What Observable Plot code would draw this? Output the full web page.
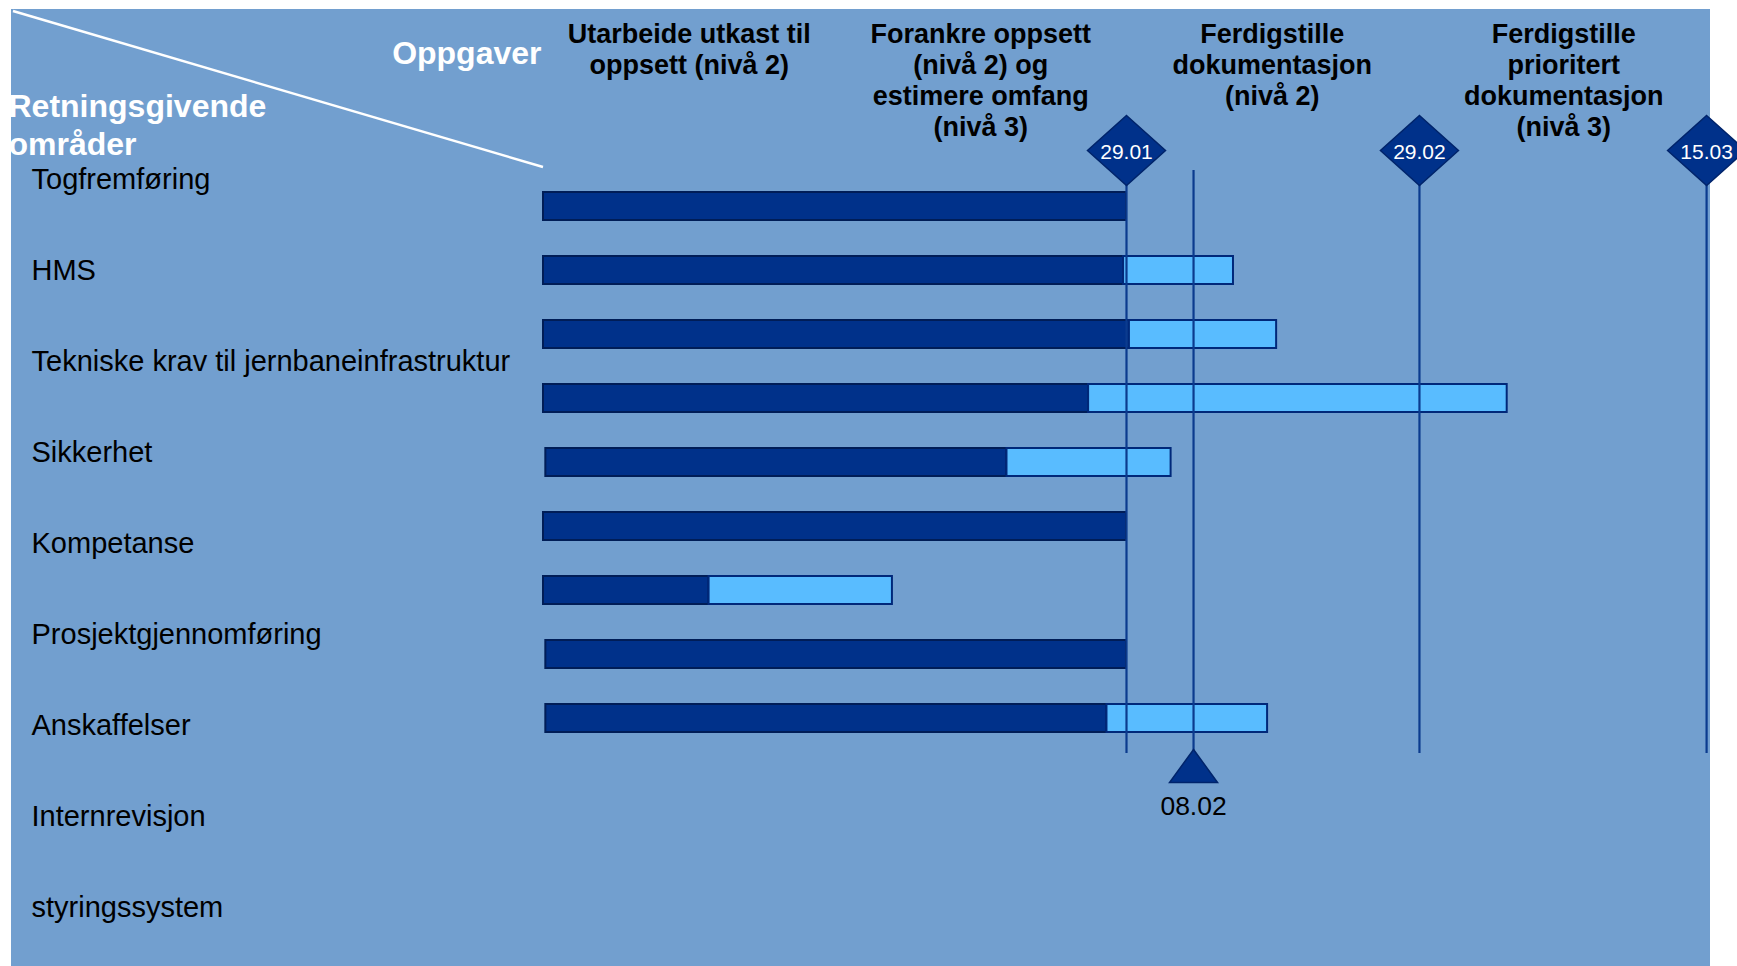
<!DOCTYPE html>
<html><head><meta charset="utf-8">
<script src="https://cdn.jsdelivr.net/npm/d3@7"></script>
<script src="https://cdn.jsdelivr.net/npm/@observablehq/plot@0.6"></script>
<style>
html,body{margin:0;padding:0;background:#fff;overflow:hidden;}
#wrap{position:relative;width:1737px;height:966px;font-family:"Liberation Sans",Arial,sans-serif;}
#panel{position:absolute;left:11px;top:9px;width:1699px;height:957px;background:#729fcf;}
#wrap svg{position:absolute;left:0;top:0;}
</style></head><body>
<div id="wrap"><div id="panel"></div>
<svg id="deco" width="1737" height="966"><line x1="13" y1="11" x2="543" y2="167" stroke="#ffffff" stroke-width="2.5"/></svg>
</div>
<script>
// Data
const areas = ["Togfremføring","HMS","Tekniske krav til jernbaneinfrastruktur","Sikkerhet","Kompetanse","Prosjektgjennomføring","Anskaffelser","Internrevisjon","styringssystem"];
const barRows = ["r1","r2","r3","r4","r5","r6","r7","r8","r9"];
const doneStart = [0, 0, 0, 0, 0.008, 0, 0, 0.008, 0.008];
const doneEnd   = [2.0, 1.99, 2.01, 1.87, 1.59, 2.0, 0.568, 2.0, 1.933];
const planEnd   = [null, 2.367, 2.515, 3.306, 2.153, null, 1.197, null, 2.484];
const phaseHeaders = [
  "Utarbeide utkast til\noppsett (nivå 2)",
  "Forankre oppsett\n(nivå 2) og\nestimere omfang\n(nivå 3)",
  "Ferdigstille\ndokumentasjon\n(nivå 2)",
  "Ferdigstille\nprioritert\ndokumentasjon\n(nivå 3)"
];
const milestoneLabels = ["29.01","29.02","15.03"];
const milestonePhase = [2, 3.005, 3.99];
const checkpointLabels = ["08.02"];
const checkpointPhase = [2.23];
const titleTasks = "Oppgaver";
const titleAreas = "Retningsgivende\nområder";

// tables
const doneBars = barRows.map((r,i)=>({row:r, x1:doneStart[i], x2:doneEnd[i]}));
const planBars = barRows.map((r,i)=>({row:r, x1:doneEnd[i], x2:planEnd[i]})).filter(d=>d.x2!=null);
const milestones = milestoneLabels.map((l,i)=>({label:l, x:milestonePhase[i]}));
const checkpoints = checkpointLabels.map((l,i)=>({label:l, x:checkpointPhase[i]}));

const diamond = {draw(ctx){ const w=39,h=35; ctx.moveTo(0,-h); ctx.lineTo(w,0); ctx.lineTo(0,h); ctx.lineTo(-w,0); ctx.closePath(); }};
const flatTriangle = {draw(ctx){ ctx.moveTo(0,-16.5); ctx.lineTo(24,16.5); ctx.lineTo(-24,16.5); ctx.closePath(); }};

const font = '"Liberation Sans", Arial, sans-serif';

const labelsPlot = Plot.plot({
  width:1737, height:966,
  marginLeft:31, marginRight:0, marginTop:133, marginBottom:13,
  style:{background:"transparent", fontFamily:font, overflow:"visible"},
  y:{type:"band", domain:areas, padding:0, axis:null},
  marks:[
    Plot.text(areas, {y:d=>d, text:d=>d, frameAnchor:"left", textAnchor:"start", fontSize:29, fill:"#000"}),
    Plot.text([titleTasks], {text:d=>d, frameAnchor:"top-left", dx:510, dy:-92, textAnchor:"end", fontSize:32, fontWeight:"bold", fill:"#fff"}),
    Plot.text([titleAreas], {text:d=>d, frameAnchor:"top-left", dx:-23, dy:-10, textAnchor:"start", lineAnchor:"middle", lineHeight:1.19, fontSize:32, fontWeight:"bold", fill:"#fff"})
  ]
});

const mainPlot = Plot.plot({
  width:1737, height:966,
  marginLeft:543, marginRight:28, marginTop:170, marginBottom:213,
  style:{background:"transparent", fontFamily:font, overflow:"visible"},
  x:{domain:[0,4], axis:null},
  y:{type:"band", domain:barRows, paddingInner:0.57, paddingOuter:0.285, axis:null},
  marks:[
    Plot.barX(doneBars, {x1:"x1", x2:"x2", y:"row", fill:"#00318a", stroke:"#001d57", strokeWidth:2}),
    Plot.barX(planBars, {x1:"x1", x2:"x2", y:"row", fill:"#59bcff", stroke:"#00287a", strokeWidth:2}),
    Plot.ruleX(milestones, {x:"x", stroke:"#0b3b8e", strokeWidth:2.2}),
    Plot.ruleX(checkpoints, {x:"x", stroke:"#0b3b8e", strokeWidth:2.2}),
    Plot.dot(milestones, {x:"x", frameAnchor:"top", dy:-20, symbol:diamond, r:10, fill:"#00318a", stroke:"#00246b", strokeWidth:1.5}),
    Plot.text(milestones, {x:"x", text:"label", frameAnchor:"top", dy:-26, fontSize:21, fill:"#fff"}),
    Plot.dot(checkpoints, {x:"x", frameAnchor:"bottom", dy:12.5, symbol:flatTriangle, r:10, fill:"#00318a", stroke:"#00246b", strokeWidth:1.5}),
    Plot.text(checkpoints, {x:"x", text:"label", frameAnchor:"bottom", dy:61, fontSize:26.5, fill:"#000"}),
    Plot.text(phaseHeaders, {x:(d,i)=>i+0.5, text:d=>d, frameAnchor:"top", dy:-149.5, lineAnchor:"top", lineHeight:1.15, fontSize:27, fontWeight:"bold", fill:"#000"})
  ]
});

const wrap = document.getElementById("wrap");
wrap.appendChild(labelsPlot);
wrap.appendChild(mainPlot);
</script>
</body></html>
